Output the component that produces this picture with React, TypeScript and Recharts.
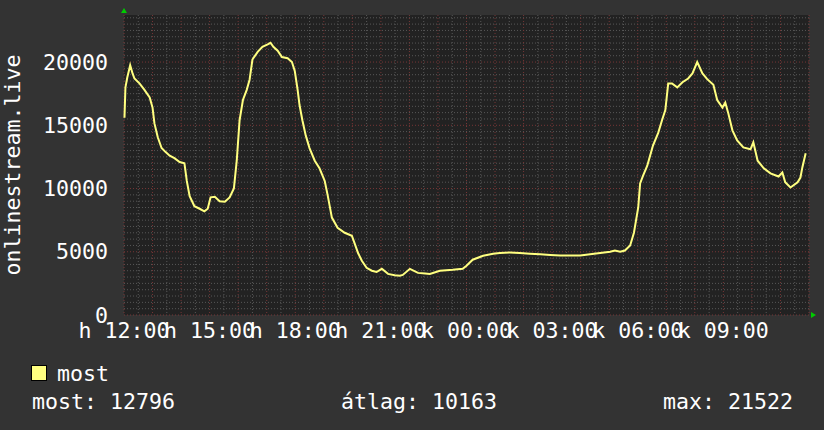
import { LineChart, Line, XAxis, YAxis, CartesianGrid, ReferenceDot, Label } from "recharts";

// minutes since Monday 12:00
const minutes = [
  1, 3, 7, 13, 18, 22, 33, 43, 54, 60, 64, 71, 79, 87, 96, 106, 117, 127, 132, 138,
  148, 159, 169, 176, 182, 191, 201, 212, 222, 231, 237, 243, 250, 258, 264, 270, 281, 291, 302, 308,
  314, 323, 332, 344, 353, 359, 365, 369, 375, 382, 390, 401, 411, 422, 428, 437, 449, 464, 479, 485,
  492, 500, 510, 521, 531, 542, 555, 569, 580, 586, 601, 618, 633, 643, 664, 691, 712, 720, 733, 755,
  776, 790, 811, 832, 853, 875, 896, 917, 938, 959, 980, 1001, 1022, 1032, 1043, 1053, 1064, 1072, 1081, 1085,
  1091, 1100, 1106, 1112, 1123, 1131, 1138, 1144, 1152, 1163, 1174, 1186, 1195, 1205, 1216, 1226, 1239, 1247, 1258, 1264,
  1270, 1279, 1289, 1302, 1317, 1323, 1332, 1345, 1359, 1376, 1384, 1390, 1401, 1416, 1422, 1426, 1433,
];

const viewers = [
  15600, 18000, 18800, 19750, 19100, 18700, 18300, 17800, 17200, 16400, 15150, 14050, 13200, 12900, 12600, 12400, 12100, 12000, 10600, 9400,
  8600, 8400, 8200, 8400, 9300, 9350, 9000, 8950, 9300, 10000, 12200, 15400, 17000, 17800, 18600, 20200, 20800, 21200, 21400, 21522,
  21200, 20900, 20400, 20300, 20000, 19300, 17800, 16600, 15400, 14200, 13200, 12200, 11600, 10600, 9500, 7700, 6900, 6500, 6270, 5640,
  4900, 4290, 3730, 3500, 3400, 3650, 3250, 3150, 3100, 3170, 3650, 3330, 3280, 3250, 3500, 3570, 3650, 3890, 4370, 4680,
  4840, 4900, 4950, 4900, 4850, 4800, 4750, 4700, 4700, 4700, 4800, 4900, 5000, 5100, 5000, 5100, 5500, 6500, 8500, 10400,
  11000, 11800, 12600, 13400, 14400, 15400, 16200, 18300, 18300, 18000, 18400, 18700, 19100, 20000, 19100, 18650, 18200, 17000, 16400, 16800,
  16000, 14600, 13800, 13250, 13100, 13650, 12200, 11600, 11200, 10950, 11270, 10500, 10080, 10500, 10870, 11670, 12796,
];

const xTicks = [0, 180, 360, 540, 720, 900, 1080, 1260];
const xTickLabels = ["h 12:00", "h 15:00", "h 18:00", "h 21:00", "k 00:00", "k 03:00", "k 06:00", "k 09:00"];
const yTicks = [0, 5000, 10000, 15000, 20000];

const seriesName = "most";
const current = 12796;
const average = 10163;
const maximum = 21522;

const X_MAX = 1440;
const Y_MAX = 23720;

const data = minutes.map((t, i) => ({ t, most: viewers[i] }));

const hourLines = Array.from({ length: 25 }, (_, i) => i * 60);
const halfHourLines = Array.from({ length: 24 }, (_, i) => i * 60 + 30);
const minorY = Array.from({ length: 48 }, (_, i) => i * 500).filter((v) => v % 5000 !== 0);

const FONT = "'DejaVu Sans Mono', monospace";
const FS = 21.6;
const YELLOW = "#ffff80";

export default function App() {
  return (
    <div style={{ position: "absolute", left: 0, top: 0, width: 824, height: 430, background: "#333333" }}>
      <LineChart width={824} height={430} data={data} margin={{ top: 15, right: 15, bottom: 85, left: 0 }}>
        <CartesianGrid
          fill="#222222"
          stroke="#585858"
          strokeDasharray="1 2"
          horizontalValues={minorY}
          verticalValues={halfHourLines}
        />
        <CartesianGrid
          stroke="#763636"
          strokeDasharray="1 2"
          horizontalValues={yTicks}
          verticalValues={hourLines}
        />
        <XAxis
          dataKey="t"
          type="number"
          domain={[0, X_MAX]}
          ticks={xTicks}
          interval={0}
          tickFormatter={(v: number) => xTickLabels[xTicks.indexOf(v)]}
          tick={{ fill: "#ffffff", fontSize: FS, fontFamily: FONT }}
          tickLine={false}
          axisLine={false}
          tickSize={0}
          tickMargin={8}
          height={30}
        />
        <YAxis
          type="number"
          domain={[0, Y_MAX]}
          ticks={yTicks}
          interval={0}
          width={124}
          tick={{ fill: "#ffffff", fontSize: FS, fontFamily: FONT }}
          tickLine={false}
          axisLine={false}
          tickSize={0}
          tickMargin={16}
        >
          <Label
            content={({ viewBox }: any) => {
              const cy = viewBox.y + viewBox.height / 2;
              return (
                <text
                  transform={`translate(20, ${cy}) rotate(-90)`}
                  textAnchor="middle"
                  fill="#ffffff"
                  fontSize={FS}
                  fontFamily={FONT}
                >
                  onlinestream.live
                </text>
              );
            }}
          />
        </YAxis>
        <Line
          dataKey="most"
          name={seriesName}
          type="linear"
          stroke={YELLOW}
          strokeWidth={2}
          dot={false}
          isAnimationActive={false}
        />
        <ReferenceDot
          x={0}
          y={Y_MAX}
          ifOverflow="visible"
          shape={(p: any) => (
            <polygon
              points={`${p.cx - 3},${p.cy - 2} ${p.cx + 3},${p.cy - 2} ${p.cx},${p.cy - 7}`}
              fill="#00cc00"
            />
          )}
        />
        <ReferenceDot
          x={X_MAX}
          y={0}
          ifOverflow="visible"
          shape={(p: any) => (
            <polygon
              points={`${p.cx + 2},${p.cy - 3} ${p.cx + 2},${p.cy + 3} ${p.cx + 7},${p.cy}`}
              fill="#00cc00"
            />
          )}
        />
      </LineChart>
      <svg
        width={824}
        height={430}
        style={{ position: "absolute", left: 0, top: 0, pointerEvents: "none" }}
        fontFamily={FONT}
        fontSize={FS}
        fill="#ffffff"
      >
        <rect x={31.5} y={365.5} width={15} height={15} fill={YELLOW} stroke="#000000" />
        <text x={57} y={381}>{seriesName}</text>
        <text x={32} y={409}>{`most: ${current}`}</text>
        <text x={341} y={409}>{`átlag: ${average}`}</text>
        <text x={663} y={409}>{`max: ${maximum}`}</text>
      </svg>
    </div>
  );
}
